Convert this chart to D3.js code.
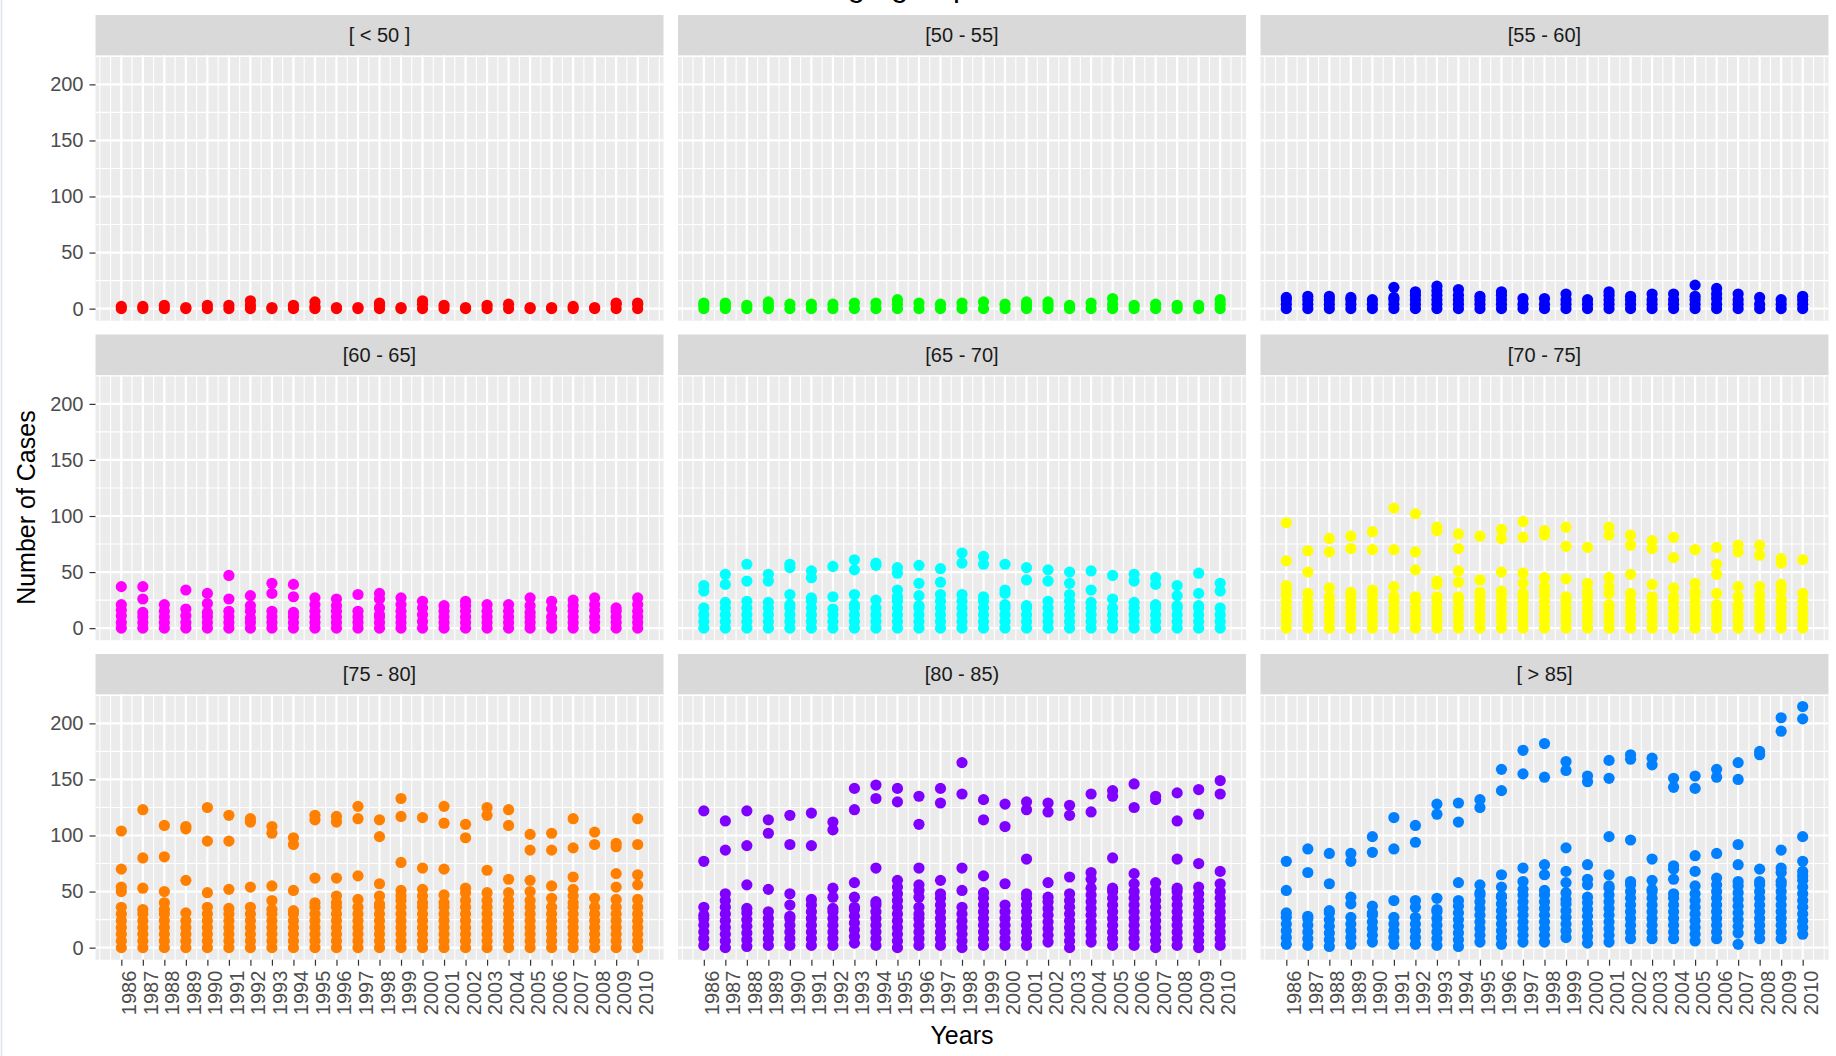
<!DOCTYPE html>
<html>
<head>
<meta charset="utf-8">
<script src="https://cdn.jsdelivr.net/npm/d3@7/dist/d3.min.js"></script>
<style>
  html, body { margin: 0; padding: 0; background: #ffffff; }
  svg { display: block; font-family: "Liberation Sans", Arial, Helvetica, sans-serif; }
</style>
</head>
<body>
<svg id="chart" width="1836" height="1056"></svg>
<script>
// ---------------- DATA ----------------
const years = [1986,1987,1988,1989,1990,1991,1992,1993,1994,1995,1996,1997,1998,
               1999,2000,2001,2002,2003,2004,2005,2006,2007,2008,2009,2010];

const groups = ["[ < 50 ]","[50 - 55]","[55 - 60]","[60 - 65]","[65 - 70]",
                "[70 - 75]","[75 - 80]","[80 - 85)","[ > 85]"];

const groupColors = ["#FF0000","#00FF00","#0000FF","#FF00FF","#00FFFF",
                     "#FFFF00","#FF8000","#8000FF","#0080FF"];

const yTickValues = [0, 50, 100, 150, 200];

// cases per year (one inner list per year, 1986..2010)
const casesLt50 = [[0,2],[0,2],[0,3],[0,1],[0,3],[0,3],[0,3,7],[0,1],[0,3],[0,2,6],[0,1],[0,1],[0,3,5],
  [0,1],[0,4,7],[0,3],[0,1],[0,3],[0,4],[0,1],[0,1],[0,2],[0,1],[0,4,5],[0,4,5]];

const cases50to55 = [[0,3,5],[0,3,5],[0,3],[0,3,6],[0,4],[0,4],[0,4],[0,5],[0,5],[0,4,8],[0,5],[0,4],[0,5],
  [0,6],[0,4],[0,3,6],[0,3,6],[0,3],[0,5],[0,4,9],[0,3],[0,4],[0,3],[0,3],[0,4,8]];

const cases55to60 = [[0,4,8,10],[0,4,8,11],[0,4,8,11],[0,4,8,10],[0,4,8],[0,4,8,10,19],[0,4,8,12,15],
  [0,4,8,12,16,20],[0,4,8,12,17],[0,4,8,11],[0,4,8,12,15],[0,4,9],[0,4,9],[0,4,8,13],[0,4,8],
  [0,4,8,12,15],[0,4,8,11],[0,4,8,13],[0,4,8,13],[0,4,8,11,21],[0,4,9,13,18],[0,4,8,13],[0,4,10],
  [0,4,8],[0,4,8,11]];

const cases60to65 = [[0,5,11,16,21,37],[0,5,10,14,26,37],[0,5,10,15,21],[0,5,11,17,34],[0,5,10,14,22,31],
  [0,5,10,15,26,47],[0,5,9,15,20,29],[0,5,10,15,31,40],[0,5,10,14,28,39],[0,5,10,15,21,27],
  [0,5,10,15,20,26],[0,5,10,15,30],[0,5,10,12,18,26,31],[0,5,10,15,21,27],[0,6,12,18,24],
  [0,5,10,15,20],[0,5,10,15,20,24],[0,5,10,15,21],[0,5,10,15,21],[0,5,10,14,20,27],
  [0,5,10,17,24],[0,5,10,15,20,25],[0,5,10,16,21,27],[0,5,10,15,18],[0,5,10,15,21,27]];

const cases65to70 = [[0,6,12,18,33,38],[0,6,12,18,23,39,48],[0,6,12,18,24,42,57],[0,6,12,18,23,42,48],
  [0,6,12,18,21,30,54,57],[0,6,12,18,24,27,45,51],[0,6,12,17,28,55],[0,6,12,18,21,30,52,61],
  [0,6,12,18,25,56,58],[0,6,12,18,24,28,34,49,54],[0,6,12,18,20,29,40,56],[0,6,12,18,24,30,41,53],
  [0,6,12,18,24,30,58,67],[0,6,12,18,24,28,57,64],[0,6,12,18,21,31,34,57],[0,6,12,18,20,43,54],
  [0,6,12,18,24,42,52],[0,6,12,18,24,30,40,50],[0,6,12,18,23,34,51],[0,6,12,18,26,47],
  [0,6,12,18,23,42,48],[0,6,12,18,21,39,45],[0,6,12,18,20,29,38],[0,6,12,18,20,31,49],
  [0,6,12,18,33,40]];

const cases70to75 = [[0,6,12,18,24,30,35,38,60,94],[0,6,12,18,24,31,50,69],[0,6,12,18,24,28,36,68,80],
  [0,6,12,18,24,28,32,71,82],[0,6,12,18,24,30,34,70,86],[0,6,12,18,24,28,37,70,107],
  [0,6,12,18,24,28,52,68,102],[0,6,12,18,24,28,39,42,87,90],[0,6,12,18,24,28,41,51,71,84],
  [0,6,12,18,24,28,32,43,82],[0,6,12,18,24,30,33,50,80,88],[0,6,12,18,24,28,31,40,49,81,95],
  [0,6,12,18,24,30,33,37,45,83,87],[0,6,12,18,24,28,44,73,90],[0,6,12,18,24,30,33,40,72],
  [0,6,12,18,21,31,37,45,83,90],[0,6,12,18,24,31,48,74,83],[0,6,12,18,24,28,39,71,78],
  [0,6,12,18,24,28,36,63,81],[0,6,12,18,24,30,33,40,70],[0,6,12,18,21,31,48,57,72],
  [0,6,12,18,21,28,37,68,74],[0,6,12,18,24,30,37,65,74],[0,6,12,18,24,26,33,39,58,62],
  [0,6,12,18,24,31,61]];

const cases75to80 = [[0,6,12,18,24,30,36,50,54,70,104],[0,6,12,18,24,30,34,53,80,123],
  [0,6,12,18,24,30,34,40,50,81,109],[0,6,12,18,24,31,60,106,108],[0,6,12,18,24,30,36,49,95,125],
  [0,6,12,18,24,30,35,52,95,118],[0,6,12,18,24,30,36,54,112,115],[0,6,12,18,24,30,34,42,55,102,108],
  [0,6,12,18,24,30,33,51,92,98],[0,6,12,18,24,30,36,40,62,114,118],[0,6,12,18,24,30,36,40,46,62,112,117],
  [0,6,12,18,24,30,36,43,64,115,126],[0,6,12,18,24,30,36,39,46,57,99,114],
  [0,6,12,18,24,30,36,42,46,51,76,117,133],[0,6,12,18,24,30,36,40,46,52,71,116],
  [0,6,12,18,24,30,36,40,47,70,111,126],[0,6,12,18,24,30,36,42,49,53,98,110],
  [0,6,12,18,24,30,36,42,49,69,118,125],[0,6,12,18,24,30,36,42,49,61,109,123],
  [0,6,12,18,24,30,36,42,50,60,87,101],[0,6,12,18,24,30,36,44,55,87,102],
  [0,6,12,18,24,30,36,40,46,52,63,89,115],[0,6,12,18,24,30,36,44,92,103],
  [0,6,12,18,24,30,36,43,54,66,90,93],[0,6,12,18,24,30,36,43,56,65,92,115]];

const cases80to85 = [[2,8,14,20,26,29,36,77,122],[0,6,12,18,24,30,36,42,48,87,113],
  [1,7,13,19,25,31,35,56,91,122],[2,8,14,20,26,32,52,102,114],[2,8,14,20,26,28,38,48,92,118],
  [2,8,14,20,26,32,38,43,91,120],[2,8,14,20,26,32,35,45,53,105,112],[4,10,16,22,28,34,36,45,58,123,142],
  [2,8,14,20,26,32,38,41,71,133,145],[0,6,12,18,24,30,36,42,48,54,60,130,142],
  [2,8,14,20,26,30,36,45,51,56,71,110,135],[2,8,14,20,26,32,38,44,48,60,129,142],
  [0,6,12,18,24,30,36,51,71,137,165],[2,8,14,20,26,32,38,44,49,64,114,132],
  [2,8,14,20,26,32,38,57,108,128],[2,8,14,20,26,32,38,44,48,79,123,130],
  [5,11,17,23,29,35,41,45,58,121,129],[0,6,12,18,24,30,36,42,48,63,118,127],
  [5,11,17,23,29,35,41,47,53,61,67,121,137],[2,8,14,20,26,32,38,44,50,53,80,135,140],
  [2,8,14,20,26,32,38,44,50,57,66,125,146],[0,6,12,18,24,30,36,42,48,51,58,132,135],
  [2,8,14,20,26,32,38,44,50,53,79,113,138],[0,6,12,18,24,30,36,42,48,54,75,119,141],
  [2,8,14,20,26,32,38,44,50,57,68,137,149]];

const casesGt85 = [[3,9,15,21,27,31,51,77],[2,8,14,20,26,28,67,88],[1,7,13,19,25,31,33,57,84],
  [3,9,15,21,27,39,45,77,84],[5,11,17,23,29,31,37,85,99],[3,9,15,21,27,42,88,116],
  [3,9,15,21,27,36,42,94,109],[2,8,14,20,26,32,34,44,119,128],[1,7,13,19,25,31,37,42,58,112,129],
  [5,11,17,23,29,35,41,47,49,56,125,132],[3,9,15,21,27,33,39,45,46,54,65,140,159],
  [5,11,17,23,29,35,41,47,52,59,71,155,176],[5,11,17,23,29,35,41,47,51,65,74,152,182],
  [9,15,21,27,33,39,43,49,58,68,89,158,166],[4,10,16,22,28,34,40,45,56,61,74,148,153],
  [5,11,17,23,29,35,41,47,53,55,65,99,151,167],[8,14,20,26,32,38,44,50,56,59,96,168,172],
  [8,14,20,26,32,38,44,50,52,60,79,163,169],[8,14,20,26,32,38,44,48,61,70,73,143,151],
  [6,12,18,24,30,36,42,48,55,68,82,142,153],[8,14,20,26,32,38,44,50,56,62,84,152,159],
  [3,13,19,25,31,37,43,49,55,59,74,92,150,165],[8,14,20,26,32,38,44,50,56,59,70,172,175],
  [8,14,20,26,32,38,44,50,56,59,67,71,87,193,205],[12,18,24,30,36,42,48,54,60,64,68,77,99,204,215]];

const panelData = [casesLt50, cases50to55, cases55to60, cases60to65, cases65to70,
                   cases70to75, cases75to80, cases80to85, casesGt85];

// ---------------- LAYOUT ----------------
const svg = d3.select("#chart");
const panelLeft = [95.5, 678, 1260.5];
const panelW = 568;
const stripH = 40.5;
const panelH = 265.2;
const rowPitch = 319.5;
const firstStripTop = 15;
const FONT_TICK = 20;

// shared scales (continuous, 5% expansion like ggplot)
const xLo = d3.min(years), xHi = d3.max(years);
const xPad = (xHi - xLo) * 0.05;
const x = d3.scaleLinear().domain([xLo - xPad, xHi + xPad]).range([0, panelW]);

const allVals = panelData.flat(2);
const yLo = d3.min(allVals), yHi = d3.max(allVals);
const yPad = (yHi - yLo) * 0.05;
const y = d3.scaleLinear().domain([yLo - yPad, yHi + yPad]).range([panelH, 0]);

// grid break positions
const xMajor = years;
const xMinor = [];
for (let i = 0; i <= years.length; i++) {
  const a = i === 0 ? years[0] - 1 : years[i - 1];
  const b = i === years.length ? years[years.length - 1] + 1 : years[i];
  xMinor.push(a, (a + b) / 2);
}
xMinor.push(years[years.length - 1] + 1);
const yMinor = [];
for (let i = 0; i <= yTickValues.length; i++) {
  const a = i === 0 ? yTickValues[0] - 50 : yTickValues[i - 1];
  const b = i === yTickValues.length ? yTickValues[yTickValues.length - 1] + 50 : yTickValues[i];
  yMinor.push((a + b) / 2);
}
const [yd0, yd1] = y.domain();
const [xd0, xd1] = x.domain();

// left thin frame line (screenshot artifact)
svg.append("line").attr("x1", 1.5).attr("x2", 1.5).attr("y1", 0).attr("y2", 1056)
  .attr("stroke", "#dde3ea").attr("stroke-width", 1.5);

groups.forEach((g, gi) => {
  const col = gi % 3, row = Math.floor(gi / 3);
  const left = panelLeft[col];
  const stripTop = firstStripTop + row * rowPitch;
  const panelTop = stripTop + stripH;

  // strip
  svg.append("rect").attr("x", left).attr("y", stripTop).attr("width", panelW).attr("height", stripH)
    .attr("fill", "#D9D9D9");
  svg.append("text").attr("x", left + panelW / 2).attr("y", stripTop + stripH / 2)
    .attr("dy", "0.36em").attr("text-anchor", "middle").attr("fill", "#1A1A1A")
    .attr("font-size", FONT_TICK).text(g);

  const p = svg.append("g").attr("transform", `translate(${left},${panelTop})`);
  p.append("rect").attr("width", panelW).attr("height", panelH).attr("fill", "#EBEBEB");

  // minor grid
  p.selectAll(".hmin").data(yMinor.filter(v => v > yd0 && v < yd1)).join("line")
    .attr("x1", 0).attr("x2", panelW).attr("y1", d => y(d)).attr("y2", d => y(d))
    .attr("stroke", "#FFFFFF").attr("stroke-width", 1.1);
  p.selectAll(".vmin").data(xMinor.filter(v => v > xd0 && v < xd1)).join("line")
    .attr("y1", 0).attr("y2", panelH).attr("x1", d => x(d)).attr("x2", d => x(d))
    .attr("stroke", "#FFFFFF").attr("stroke-width", 1.1);
  // major grid
  p.selectAll(".hmaj").data(yTickValues).join("line")
    .attr("x1", 0).attr("x2", panelW).attr("y1", d => y(d)).attr("y2", d => y(d))
    .attr("stroke", "#FFFFFF").attr("stroke-width", 2.2);
  p.selectAll(".vmaj").data(xMajor).join("line")
    .attr("y1", 0).attr("y2", panelH).attr("x1", d => x(d)).attr("x2", d => x(d))
    .attr("stroke", "#FFFFFF").attr("stroke-width", 2.2);

  // points
  const pts = [];
  panelData[gi].forEach((vals, yi) => vals.forEach(v => pts.push({ yr: years[yi], v })));
  p.selectAll("circle").data(pts).join("circle")
    .attr("cx", d => x(d.yr)).attr("cy", d => y(d.v)).attr("r", 5.6)
    .attr("fill", groupColors[gi]);

  // y axis on first column
  if (col === 0) {
    const ax = p.append("g").call(d3.axisLeft(y).tickValues(yTickValues).tickSize(6).tickPadding(6));
    ax.select(".domain").remove();
    ax.selectAll("line").attr("stroke", "#333333").attr("stroke-width", 1.2);
    ax.selectAll("text").attr("fill", "#4D4D4D").attr("font-size", FONT_TICK)
      .attr("font-family", "Liberation Sans, Arial, sans-serif");
  }
  // x axis on last row
  if (row === 2) {
    const ax = p.append("g").attr("transform", `translate(0,${panelH})`)
      .call(d3.axisBottom(x).tickValues(years).tickFormat(d3.format("d")).tickSize(6));
    ax.select(".domain").remove();
    ax.selectAll("line").attr("stroke", "#333333").attr("stroke-width", 1.2);
    ax.selectAll("text").attr("fill", "#4D4D4D").attr("font-size", FONT_TICK)
      .attr("font-family", "Liberation Sans, Arial, sans-serif")
      .attr("transform", "rotate(-90)").attr("text-anchor", "end")
      .attr("x", -11).attr("y", 14.5).attr("dy", 0);
  }
});

// axis titles
const plotMidX = (panelLeft[0] + panelLeft[2] + panelW) / 2;
const plotTop = firstStripTop + stripH;
const plotBottom = firstStripTop + 2 * rowPitch + stripH + panelH;
svg.append("text").attr("x", plotMidX).attr("y", 1044).attr("text-anchor", "middle")
  .attr("font-size", 25).attr("fill", "#000000").text("Years");
svg.append("text").attr("transform", `translate(35,${(plotTop + plotBottom) / 2}) rotate(-90)`)
  .attr("text-anchor", "middle").attr("font-size", 25).attr("fill", "#000000")
  .text("Number of Cases");

// plot title (mostly above the visible area in the reference)
const titlePrefix = "Number of cases in each ";
const tmp = svg.append("text").attr("font-size", 31).text(titlePrefix);
const prefixW = tmp.node().getComputedTextLength();
tmp.remove();
svg.append("text").attr("x", 822 - prefixW).attr("y", -4).attr("font-size", 31)
  .attr("fill", "#000000").attr("xml:space", "preserve").text(titlePrefix + "age group");
</script>
</body>
</html>
